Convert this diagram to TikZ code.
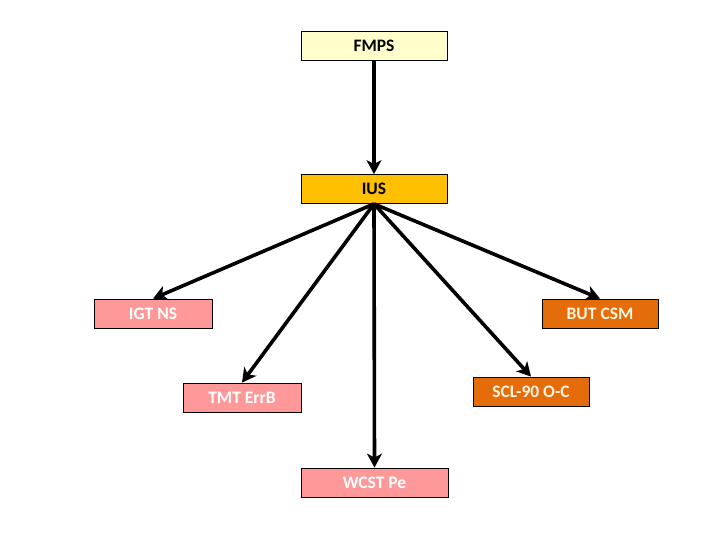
\documentclass[tikz,border=0pt]{standalone}
\usepackage{fontspec}
\setmainfont{Carlito}
\usetikzlibrary{arrows.meta,positioning}
\definecolor{fmpsyel}{RGB}{255,255,204}
\definecolor{iusgold}{RGB}{255,192,0}
\definecolor{negpink}{RGB}{255,153,153}
\definecolor{cogorange}{RGB}{228,108,10}
\definecolor{cream}{RGB}{255,245,220}
\tikzset{
  box/.style={draw=black, line width=0.8pt, minimum height=29pt, inner sep=0pt,
              font=\bfseries\fontsize{17.5}{20}\selectfont},
  topbox/.style={box, fill=#1, text=black, minimum width=146pt},
  pinkbox/.style={box, fill=negpink, text=white, minimum width=118pt},
  orbox/.style={box, fill=cogorange, text=cream, minimum width=116pt},
  linkarr/.style={-{Stealth[length=14pt,width=15pt,inset=4pt]}, black, line width=3.6pt},
}
\begin{document}
\begin{tikzpicture}[x=1pt,y=-1pt]
  \useasboundingbox[fill=white] (0,0) rectangle (720,540);
  \node[topbox=fmpsyel] (fmps) at (374,45.5) {FMPS};
  \node[topbox=iusgold] (ius) at (374,189) {IUS};
  \node[pinkbox] (igt) at (153,313.5) {IGT NS};
  \node[orbox] (but) at (600,313.5) {BUT CSM};
  \node[pinkbox] (tmt) at (242,397.5) {TMT ErrB};
  \node[orbox] (scl) at (531,391.5) {SCL-90 O-C};
  \node[pinkbox, minimum width=147pt] (wcst) at (374.5,482.5) {WCST Pe};
  % arrows
  \draw[linkarr] (fmps) -- (ius);
  \draw[linkarr] (ius.south) -- (igt.north);
  \draw[linkarr] (ius.south) -- (but.north);
  \draw[linkarr] (ius.south) -- (tmt.north);
  \draw[linkarr] (ius.south) -- (scl.north);
  \draw[linkarr] (ius.south) -- (wcst.north);
\end{tikzpicture}
\end{document}
